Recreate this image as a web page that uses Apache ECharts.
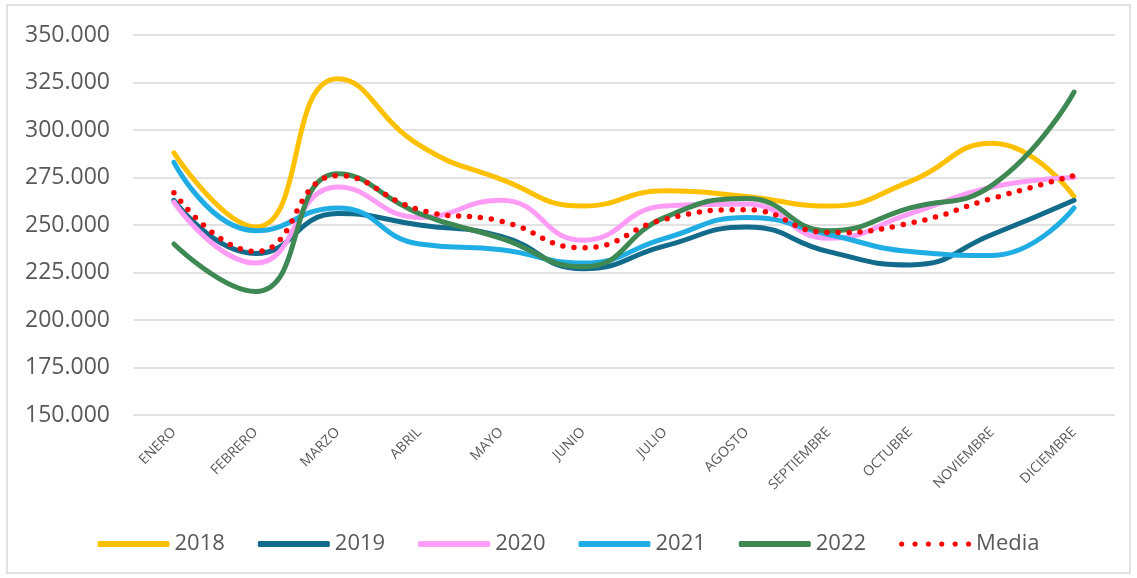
<!DOCTYPE html>
<html>
<head>
    <meta charset="UTF-8">
    <title>Media mensual</title>
    <script src="https://cdn.jsdelivr.net/npm/echarts@6/dist/echarts.min.js"></script>
    <style>
        html, body { margin: 0; padding: 0; background: #fff; }
    </style>
</head>
<body>
    <div id="main" style="width:1137px;height:578px;"></div>
    <script>
        // datos
        var meses = ['ENERO', 'FEBRERO', 'MARZO', 'ABRIL', 'MAYO', 'JUNIO', 'JULIO',
            'AGOSTO', 'SEPTIEMBRE', 'OCTUBRE', 'NOVIEMBRE', 'DICIEMBRE'];
        var y2018 = [288000, 249000, 327000, 292000, 274000, 260000, 268000, 265000, 260000, 273000, 293000, 265000];
        var y2019 = [263000, 235000, 256000, 250000, 244000, 227000, 239000, 249000, 236000, 229000, 245000, 263000];
        var y2020 = [262000, 230000, 270000, 254000, 263000, 242000, 260000, 261000, 243000, 256000, 270000, 275000];
        var y2021 = [283000, 247000, 259000, 240000, 237000, 230000, 243000, 254000, 245000, 236000, 234000, 259000];
        var y2022 = [240000, 215000, 277000, 256000, 243000, 228000, 254000, 264000, 247000, 259000, 271000, 320000];
        var media = [267000, 236000, 276000, 258000, 252000, 238000, 253000, 258000, 246000, 251000, 264000, 276000];

        var txt = '#595959';
        var fuente = '"Open Sans", "Noto Sans", sans-serif';

        function miles(v) {
            return String(v).replace(/\B(?=(\d{3})+(?!\d))/g, '.');
        }

        // icono de leyenda punteado (6 puntos)
        var puntos = '';
        for (var i = 0; i < 6; i++) {
            var cx = 2.5 + i * 13;
            puntos += 'M' + (cx - 2.5) + ' 2.5a2.5 2.5 0 1 0 5 0a2.5 2.5 0 1 0 -5 0Z';
        }

        function serie(nombre, datos, color) {
            return {
                name: nombre,
                type: 'line',
                data: datos,
                smooth: 0.5,
                symbol: 'none',
                lineStyle: { color: color, width: 5, cap: 'round' },
                itemStyle: { color: color }
            };
        }

        var myChart = echarts.init(document.getElementById('main'));

        var option = {
            animation: false,
            backgroundColor: '#fff',
            graphic: [{
                type: 'rect',
                shape: { x: 7, y: 5, width: 1123, height: 568 },
                style: { fill: 'none', stroke: '#d9d9d9', lineWidth: 1.5 },
                silent: true
            }],
            grid: { left: 133, right: 22, top: 35, bottom: 163 },
            legend: {
                bottom: 18,
                left: 'center',
                itemWidth: 72,
                itemHeight: 6,
                itemGap: 33,
                textStyle: { color: txt, fontSize: 22, fontFamily: fuente },
                data: [
                    { name: '2018', icon: 'roundRect' },
                    { name: '2019', icon: 'roundRect' },
                    { name: '2020', icon: 'roundRect' },
                    { name: '2021', icon: 'roundRect' },
                    { name: '2022', icon: 'roundRect' },
                    { name: 'Media', icon: 'path://' + puntos }
                ]
            },
            xAxis: {
                type: 'category',
                data: meses,
                boundaryGap: true,
                axisLine: { show: false },
                axisTick: { show: false },
                axisLabel: {
                    rotate: 45,
                    interval: 0,
                    margin: 15,
                    color: txt,
                    fontSize: 14,
                    fontFamily: fuente
                }
            },
            yAxis: {
                type: 'value',
                min: 150000,
                max: 350000,
                interval: 25000,
                axisLine: { show: false },
                axisTick: { show: false },
                splitLine: { lineStyle: { color: '#d9d9d9', width: 1.5 } },
                axisLabel: {
                    margin: 23,
                    color: txt,
                    fontSize: 23,
                    fontFamily: fuente,
                    formatter: miles
                }
            },
            series: [
                serie('2018', y2018, '#FFC000'),
                serie('2019', y2019, '#136B8B'),
                serie('2020', y2020, '#FF9CF6'),
                serie('2021', y2021, '#1FADE4'),
                serie('2022', y2022, '#3D8853'),
                {
                    name: 'Media',
                    type: 'line',
                    data: media,
                    smooth: 0.5,
                    symbol: 'none',
                    lineStyle: { color: '#FF0000', width: 5.5, type: [0, 11], cap: 'round' },
                    itemStyle: { color: '#FF0000' }
                }
            ]
        };
        myChart.setOption(option);
    </script>
</body>
</html>
